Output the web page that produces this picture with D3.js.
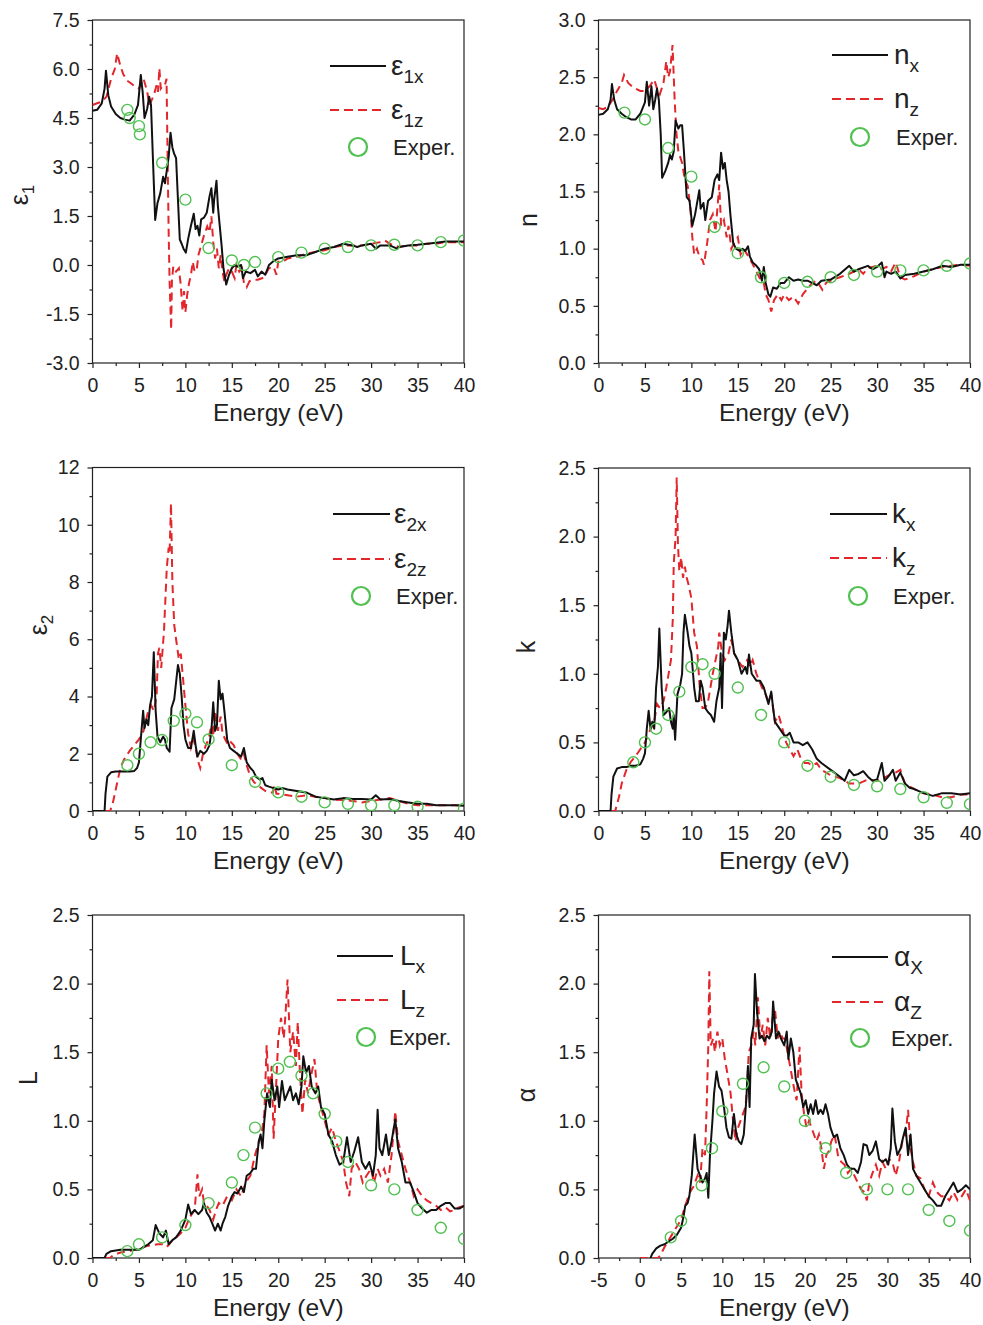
<!DOCTYPE html>
<html>
<head>
<meta charset="utf-8">
<script src="https://cdn.jsdelivr.net/npm/d3@7"></script>
<style>
  body { margin: 0; background: #fff; }
  svg { display: block; font-family: "Liberation Sans", Arial, Helvetica, sans-serif; }
  .tick text { font-size: 19.5px; fill: #222; }
</style>
</head>
<body>
<svg id="chart" width="983" height="1325"></svg>
<script>
// ---- tick labels ----
var xTicks = [0, 5, 10, 15, 20, 25, 30, 35, 40];
var xTicksAlpha = [-5, 0, 5, 10, 15, 20, 25, 30, 35, 40];
var eps1Ticks = [-3.0, -1.5, 0.0, 1.5, 3.0, 4.5, 6.0, 7.5];
var nTicks = [0.0, 0.5, 1.0, 1.5, 2.0, 2.5, 3.0];
var eps2Ticks = [0, 2, 4, 6, 8, 10, 12];
var kTicks = [0.0, 0.5, 1.0, 1.5, 2.0, 2.5];
var lossTicks = [0.0, 0.5, 1.0, 1.5, 2.0, 2.5];
var alphaTicks = [0.0, 0.5, 1.0, 1.5, 2.0, 2.5];

// ---- series: [energy (eV), value] ----
var eps1x = [[0,4.72],[0.5,4.75],[1.0,4.95],[1.3,5.4],[1.45,5.95],[1.7,5.2],[2.0,4.85],[2.5,4.62],[3.0,4.5],[3.5,4.45],[4.0,4.42],[4.5,4.6],[4.9,4.9],[5.2,5.82],[5.4,5.3],[5.6,4.5],[5.9,4.8],[6.1,5.15],[6.3,4.9],[6.5,3.3],[6.75,1.38],[7.0,1.9],[7.3,2.2],[7.6,2.7],[7.8,2.5],[8.0,2.9],[8.2,3.3],[8.4,4.05],[8.6,3.6],[8.8,3.4],[9.0,3.27],[9.2,2.0],[9.4,0.78],[9.6,0.65],[9.8,0.5],[10.05,0.38],[10.3,0.8],[10.6,1.2],[10.9,1.57],[11.1,1.1],[11.3,1.2],[11.5,0.9],[11.7,1.4],[12.0,1.45],[12.3,1.6],[12.6,2.1],[12.8,2.35],[13.0,1.6],[13.1,2.0],[13.35,2.58],[13.5,1.8],[13.7,1.2],[13.9,0.6],[14.1,-0.1],[14.4,-0.6],[14.7,-0.3],[15.0,-0.1],[15.3,0.0],[15.6,-0.05],[16.0,0.0],[16.2,-0.4],[16.5,-0.2],[17.0,-0.25],[17.5,-0.15],[17.8,-0.35],[18.2,-0.2],[18.6,-0.3],[19.0,0.0],[19.5,0.12],[20.0,0.2],[21,0.25],[22,0.3],[23,0.3],[24,0.4],[25,0.5],[26,0.55],[27,0.65],[28,0.6],[28.5,0.55],[29,0.6],[30,0.65],[30.5,0.5],[31,0.6],[32,0.6],[32.8,0.5],[33,0.55],[34,0.6],[35,0.62],[36,0.65],[37,0.68],[38,0.72],[39,0.72],[40,0.72]];
var eps1z = [[0,4.9],[0.5,4.95],[1.0,5.0],[1.5,5.15],[2.0,5.7],[2.4,6.0],[2.65,6.48],[3.0,6.1],[3.3,5.85],[3.7,5.65],[4.2,5.55],[4.6,5.45],[5.0,5.4],[5.3,5.6],[5.5,5.7],[5.9,5.3],[6.1,4.9],[6.3,5.0],[6.6,5.2],[6.9,5.5],[7.05,5.3],[7.2,6.02],[7.35,5.4],[7.6,5.5],[7.8,5.5],[7.97,5.7],[8.1,3.0],[8.2,1.0],[8.3,-0.5],[8.47,-1.98],[8.55,-0.5],[8.7,-0.04],[9.0,-0.2],[9.3,-0.1],[9.5,-0.6],[9.7,-1.42],[9.85,-0.8],[10.0,-1.45],[10.2,-0.9],[10.4,-0.55],[10.6,-0.3],[10.8,0.1],[10.95,-0.15],[11.2,-0.2],[11.4,0.3],[11.7,0.6],[12.0,0.9],[12.35,1.18],[12.6,1.0],[12.8,1.49],[13.0,0.7],[13.2,0.2],[13.4,0.5],[13.6,-0.1],[13.8,0.3],[14.0,-0.2],[14.2,-0.5],[14.4,-0.3],[14.7,-0.1],[15.0,-0.2],[15.3,-0.4],[15.5,0.0],[15.8,-0.2],[16.1,-0.1],[16.3,-0.55],[16.6,-0.68],[16.9,-0.5],[17.3,-0.45],[17.8,-0.45],[18.3,-0.4],[18.6,-0.3],[19.0,-0.1],[19.5,-0.05],[19.8,-0.3],[20.0,0.1],[20.5,0.1],[21,0.2],[22,0.25],[23,0.35],[24,0.4],[25,0.45],[26,0.55],[27,0.6],[28,0.6],[29,0.6],[30,0.65],[31,0.7],[31.5,0.75],[32,0.65],[32.5,0.6],[33,0.55],[34,0.6],[35,0.6],[36,0.65],[37,0.65],[38,0.7],[39,0.7],[40,0.7]];
var eps1Exp = [[3.75,4.75],[4.0,4.5],[5.0,4.25],[5.1,4.0],[7.5,3.13],[10,2.0],[12.5,0.52],[15,0.14],[16.3,0.0],[17.5,0.09],[20,0.24],[22.5,0.38],[25,0.5],[27.5,0.55],[30,0.6],[32.5,0.62],[35,0.6],[37.5,0.7],[40,0.75]];

var nx = [[0,2.17],[0.5,2.18],[1.0,2.22],[1.3,2.3],[1.45,2.44],[1.7,2.3],[2.0,2.22],[2.5,2.18],[3.0,2.15],[3.5,2.13],[4.0,2.13],[4.5,2.18],[5.0,2.28],[5.2,2.46],[5.45,2.25],[5.7,2.42],[5.9,2.22],[6.1,2.3],[6.3,2.4],[6.5,2.3],[6.7,2.0],[6.85,1.62],[7.2,1.68],[7.5,1.75],[7.7,1.82],[7.9,1.78],[8.1,1.85],[8.3,2.12],[8.6,2.05],[8.8,2.08],[9.0,2.08],[9.2,1.85],[9.5,1.45],[9.8,1.42],[10.1,1.2],[10.4,1.3],[10.85,1.51],[11.0,1.35],[11.3,1.4],[11.5,1.25],[11.8,1.42],[12.2,1.45],[12.5,1.6],[12.8,1.65],[13.0,1.6],[13.2,1.84],[13.4,1.7],[13.6,1.75],[13.8,1.6],[14.0,1.5],[14.2,1.3],[14.5,1.05],[14.8,1.0],[15.2,0.98],[15.5,1.0],[15.8,0.98],[16.1,1.02],[16.3,0.93],[16.6,0.88],[17.0,0.85],[17.3,0.82],[17.6,0.72],[17.8,0.84],[18.0,0.7],[18.3,0.6],[18.5,0.58],[18.8,0.66],[19.2,0.65],[19.6,0.7],[20.0,0.7],[20.5,0.75],[21,0.72],[21.5,0.73],[22,0.72],[22.5,0.72],[23,0.7],[23.5,0.68],[24,0.72],[25,0.73],[26,0.78],[27,0.85],[27.5,0.8],[28,0.82],[29,0.85],[29.5,0.82],[30,0.84],[30.5,0.88],[30.8,0.75],[31,0.8],[31.5,0.78],[32,0.8],[32.5,0.74],[33,0.77],[34,0.78],[35,0.8],[36,0.82],[37,0.85],[38,0.84],[39,0.86],[40,0.86]];
var nz = [[0,2.23],[0.5,2.22],[1.0,2.24],[1.5,2.3],[2.0,2.38],[2.5,2.45],[2.75,2.52],[3.2,2.45],[3.6,2.42],[4.0,2.4],[4.5,2.38],[5.0,2.38],[5.5,2.42],[6.0,2.48],[6.3,2.4],[6.6,2.35],[7.0,2.45],[7.3,2.64],[7.5,2.5],[7.7,2.55],[7.97,2.78],[8.2,2.3],[8.4,2.0],[8.6,1.85],[9.0,1.75],[9.3,1.6],[9.6,1.55],[9.9,1.35],[10.1,1.1],[10.3,0.95],[10.6,1.0],[10.9,0.92],[11.2,0.9],[11.35,0.86],[11.7,1.05],[12.0,1.25],[12.3,1.3],[12.6,1.15],[12.9,1.45],[13.0,1.56],[13.2,1.2],[13.5,1.25],[13.8,1.1],[14.0,1.2],[14.3,1.0],[14.6,1.05],[15.0,1.1],[15.3,0.95],[15.6,1.0],[16.0,0.95],[16.5,0.88],[17.0,0.8],[17.5,0.72],[17.8,0.7],[18.0,0.6],[18.3,0.55],[18.6,0.45],[18.9,0.55],[19.3,0.6],[19.7,0.55],[20.0,0.6],[20.5,0.55],[21,0.58],[21.5,0.52],[22,0.6],[22.5,0.65],[23,0.7],[23.5,0.72],[24.1,0.64],[24.5,0.7],[25,0.72],[26,0.75],[27,0.78],[28,0.82],[28.5,0.78],[29,0.83],[30,0.85],[30.5,0.82],[31,0.84],[31.5,0.8],[32,0.88],[32.5,0.75],[33,0.73],[34,0.76],[35,0.8],[36,0.82],[37,0.84],[38,0.85],[39,0.86],[40,0.85]];
var nExp = [[2.8,2.19],[5.0,2.13],[7.5,1.88],[10,1.63],[12.5,1.19],[15,0.96],[17.5,0.75],[20,0.7],[22.5,0.71],[25,0.75],[27.5,0.77],[30,0.8],[32.5,0.81],[35,0.81],[37.5,0.85],[40,0.87]];

var eps2x = [[0,0],[1.3,0],[1.4,0.6],[1.6,1.2],[2.0,1.35],[2.5,1.38],[3.0,1.38],[3.5,1.38],[4.0,1.38],[4.5,1.4],[4.8,1.5],[5.0,1.7],[5.2,2.5],[5.45,3.5],[5.6,2.9],[5.8,3.2],[6.0,3.0],[6.2,3.7],[6.4,4.0],[6.6,5.55],[6.8,3.5],[7.0,2.6],[7.3,2.4],[7.6,2.6],[7.8,2.5],[8.0,2.2],[8.3,2.07],[8.5,3.6],[8.8,3.9],[9.0,4.5],[9.2,5.1],[9.4,4.8],[9.6,4.0],[9.8,3.0],[10.0,2.5],[10.3,2.2],[10.6,2.2],[10.9,2.8],[11.1,2.3],[11.3,1.9],[11.6,2.1],[12.0,2.0],[12.3,2.1],[12.6,2.3],[12.8,2.8],[13.0,3.8],[13.2,2.8],[13.4,3.0],[13.6,4.55],[13.8,3.9],[14.0,4.1],[14.2,3.5],[14.5,2.5],[14.8,2.2],[15.2,2.1],[15.6,2.0],[16.0,1.9],[16.3,2.2],[16.6,1.7],[17.0,1.5],[17.3,1.4],[17.6,1.2],[18.0,1.1],[18.3,1.15],[18.6,0.9],[19.0,0.85],[19.5,0.8],[20.0,0.75],[20.5,0.8],[21,0.75],[22,0.7],[23,0.65],[24,0.5],[25,0.45],[26,0.4],[27,0.45],[28,0.42],[29,0.42],[30,0.4],[30.5,0.55],[31,0.4],[32,0.42],[33,0.35],[34,0.3],[35,0.25],[36,0.25],[37,0.2],[38,0.2],[39,0.2],[40,0.18]];
var eps2z = [[0,0],[1.9,0],[2.2,0.3],[2.6,0.9],[3.0,1.5],[3.4,1.8],[4.0,2.1],[4.5,2.3],[5.0,2.5],[5.5,2.8],[6.0,3.5],[6.3,3.7],[6.6,3.5],[6.9,4.0],[7.05,5.5],[7.2,5.7],[7.4,5.0],[7.7,6.3],[8.0,8.5],[8.2,9.2],[8.3,9.0],[8.45,10.75],[8.6,8.0],[8.8,6.5],[9.0,6.0],[9.3,5.3],[9.5,5.5],[9.7,4.8],[10.0,3.7],[10.3,2.7],[10.6,2.2],[10.9,2.5],[11.1,2.2],[11.4,1.7],[11.6,1.5],[11.9,2.0],[12.2,2.3],[12.5,2.5],[12.8,3.0],[13.0,2.6],[13.2,3.5],[13.5,2.8],[13.8,3.3],[14.0,2.7],[14.3,2.5],[14.6,2.3],[14.9,2.4],[15.2,2.3],[15.6,2.0],[16.0,1.8],[16.3,2.0],[16.6,1.6],[17.0,1.2],[17.4,1.0],[17.8,0.9],[18.2,0.8],[18.6,0.7],[19.0,0.65],[19.4,0.65],[19.6,0.9],[19.8,0.6],[20.0,0.6],[21,0.55],[22,0.5],[23,0.55],[24,0.5],[25,0.45],[26,0.4],[27,0.38],[28,0.35],[29,0.3],[30,0.35],[31,0.4],[32,0.45],[33,0.35],[34,0.25],[35,0.2],[36,0.2],[37,0.2],[38,0.2],[39,0.2],[40,0.2]];
var eps2Exp = [[3.75,1.6],[5.0,2.0],[6.25,2.4],[7.5,2.48],[8.75,3.15],[10,3.4],[11.25,3.1],[12.5,2.5],[15,1.6],[17.5,1.02],[20,0.65],[22.5,0.5],[25,0.3],[27.5,0.25],[30,0.2],[32.5,0.2],[35,0.15],[40,0.08]];

var kx = [[0,0],[1.3,0],[1.4,0.12],[1.6,0.25],[2.0,0.31],[2.5,0.32],[3.0,0.32],[3.5,0.33],[4.0,0.33],[4.5,0.34],[4.8,0.38],[5.0,0.42],[5.2,0.6],[5.4,0.73],[5.6,0.6],[5.8,0.65],[6.0,0.6],[6.2,0.9],[6.4,1.05],[6.55,1.33],[6.8,0.9],[7.0,0.7],[7.3,0.72],[7.6,0.75],[7.8,0.65],[8.0,0.6],[8.1,0.7],[8.25,0.52],[8.5,0.85],[8.8,0.92],[9.0,1.0],[9.15,1.3],[9.3,1.43],[9.6,1.3],[9.8,1.2],[10.0,1.15],[10.3,0.9],[10.5,0.8],[10.8,0.8],[11.0,0.95],[11.2,0.9],[11.5,0.75],[11.8,0.72],[12.1,0.7],[12.45,0.65],[12.7,0.8],[13.0,0.9],[13.15,1.15],[13.3,0.75],[13.5,1.3],[13.7,1.25],[13.9,1.35],[14.05,1.46],[14.3,1.3],[14.6,1.15],[15.0,1.1],[15.4,1.0],[15.8,1.05],[16.0,1.0],[16.2,1.14],[16.5,1.0],[17.0,0.95],[17.4,0.95],[17.8,0.9],[18.0,0.85],[18.3,0.78],[18.6,0.87],[18.8,0.75],[19.0,0.65],[19.5,0.6],[20.0,0.55],[20.3,0.55],[20.6,0.57],[21.0,0.5],[21.5,0.5],[22.0,0.48],[22.5,0.5],[23.0,0.45],[23.5,0.38],[24.0,0.35],[25.0,0.3],[26.0,0.25],[26.5,0.22],[27.0,0.3],[27.5,0.26],[28.0,0.27],[28.5,0.29],[29.0,0.25],[29.5,0.22],[30.0,0.23],[30.5,0.35],[30.8,0.22],[31.2,0.25],[31.7,0.3],[32.0,0.22],[32.5,0.28],[33.0,0.2],[33.5,0.17],[34.0,0.16],[35.0,0.13],[36.0,0.11],[37.0,0.13],[38.0,0.13],[39.0,0.12],[40.0,0.13]];
var kz = [[0,0],[1.8,0],[2.2,0.1],[2.5,0.2],[3.0,0.3],[3.5,0.36],[4.0,0.4],[4.5,0.45],[5.0,0.5],[5.5,0.58],[6.0,0.65],[6.3,0.78],[6.6,0.75],[7.0,0.8],[7.3,0.9],[7.5,0.98],[7.8,1.1],[8.0,1.4],[8.1,1.8],[8.3,2.0],[8.42,2.43],[8.55,1.95],[8.7,1.75],[8.9,1.85],[9.1,1.7],[9.3,1.78],[9.5,1.7],[9.7,1.65],[10.0,1.55],[10.3,1.3],[10.6,1.2],[10.9,0.9],[11.2,0.75],[11.5,0.75],[11.8,0.8],[12.0,0.88],[12.3,1.0],[12.6,1.1],[12.9,1.2],[13.0,1.3],[13.3,1.15],[13.6,1.1],[14.0,1.15],[14.3,1.25],[14.6,1.15],[15.0,1.1],[15.5,1.05],[16.0,1.1],[16.3,1.05],[16.6,1.1],[17.0,1.0],[17.3,0.95],[17.6,0.9],[18.0,0.85],[18.3,0.8],[18.6,0.85],[19.0,0.65],[19.4,0.7],[19.8,0.6],[20.2,0.5],[20.6,0.45],[21.0,0.4],[21.4,0.45],[21.8,0.38],[22.2,0.35],[22.6,0.35],[23.0,0.33],[23.5,0.35],[24.0,0.3],[25.0,0.26],[26.0,0.24],[27.0,0.2],[28.0,0.2],[29.0,0.23],[30.0,0.22],[31.0,0.25],[31.5,0.27],[32.0,0.28],[32.5,0.3],[33.0,0.2],[33.5,0.18],[34.0,0.16],[35.0,0.13],[36.0,0.12],[37.0,0.1],[38.0,0.1],[39.0,0.12],[40.0,0.12]];
var kExp = [[3.75,0.355],[5.0,0.5],[6.2,0.6],[7.5,0.7],[8.7,0.87],[10,1.05],[11.2,1.07],[12.5,1.0],[15,0.9],[17.5,0.7],[20,0.5],[22.5,0.33],[25,0.25],[27.5,0.19],[30,0.18],[32.5,0.16],[35,0.1],[37.5,0.06],[40,0.05]];

var lossx = [[0,0],[1.3,0],[1.5,0.03],[2.0,0.05],[3.0,0.06],[4.0,0.06],[5.0,0.06],[5.5,0.08],[6.0,0.1],[6.5,0.13],[6.8,0.24],[7.2,0.18],[7.6,0.15],[7.9,0.2],[8.2,0.1],[8.6,0.13],[9.0,0.15],[9.5,0.2],[10.0,0.28],[10.3,0.39],[10.6,0.32],[11.0,0.35],[11.4,0.32],[11.8,0.35],[12.0,0.4],[12.3,0.33],[12.6,0.3],[12.9,0.25],[13.2,0.2],[13.5,0.25],[13.8,0.2],[14.0,0.25],[14.3,0.3],[14.6,0.38],[15.0,0.45],[15.3,0.48],[15.6,0.47],[16.0,0.52],[16.3,0.48],[16.6,0.6],[17.0,0.62],[17.3,0.65],[17.6,0.65],[17.9,0.85],[18.1,0.9],[18.3,0.8],[18.5,1.0],[18.8,1.2],[19.1,1.1],[19.3,1.3],[19.6,1.15],[19.9,1.25],[20.1,1.1],[20.4,1.29],[20.7,1.15],[21.0,1.2],[21.3,1.25],[21.6,1.15],[21.9,1.2],[22.2,1.12],[22.5,1.25],[22.7,1.47],[23.0,1.35],[23.3,1.4],[23.6,1.25],[24.0,1.2],[24.3,1.25],[24.6,1.1],[25.0,1.05],[25.4,0.9],[25.8,0.85],[26.2,0.75],[26.6,0.68],[27.0,0.7],[27.4,0.88],[27.8,0.7],[28.2,0.78],[28.6,0.88],[29.0,0.7],[29.4,0.65],[29.8,0.7],[30.2,0.6],[30.5,0.75],[30.7,1.08],[30.9,0.8],[31.2,0.75],[31.6,0.9],[31.9,0.75],[32.2,0.85],[32.6,1.01],[32.9,0.8],[33.3,0.7],[33.7,0.55],[34.2,0.55],[34.6,0.48],[35.0,0.4],[35.5,0.36],[36.0,0.33],[36.5,0.35],[37.0,0.35],[37.5,0.38],[38.0,0.4],[38.5,0.4],[39.0,0.36],[39.5,0.36],[40.0,0.38]];
var lossz = [[0,0],[1.9,0],[2.2,0.02],[3.0,0.04],[4.0,0.05],[5.0,0.07],[6.0,0.09],[7.0,0.1],[7.5,0.1],[8.0,0.08],[8.5,0.12],[9.0,0.15],[9.5,0.18],[10.0,0.22],[10.5,0.3],[11.0,0.35],[11.3,0.61],[11.5,0.45],[11.8,0.5],[12.0,0.4],[12.3,0.38],[12.6,0.35],[13.0,0.28],[13.3,0.35],[13.6,0.4],[14.0,0.38],[14.5,0.45],[15.0,0.42],[15.5,0.5],[16.0,0.45],[16.5,0.55],[17.0,0.6],[17.5,0.75],[17.8,0.82],[18.2,0.9],[18.5,1.05],[18.75,1.55],[19.0,1.2],[19.3,1.4],[19.5,0.87],[19.8,1.3],[20.0,1.6],[20.3,1.75],[20.6,1.6],[20.8,1.8],[21.0,2.03],[21.3,1.5],[21.6,1.65],[21.9,1.4],[22.1,1.72],[22.3,1.4],[22.6,1.05],[22.9,1.3],[23.2,1.2],[23.6,1.35],[23.9,1.45],[24.2,1.2],[24.6,1.1],[25.0,1.0],[25.4,0.9],[25.8,0.95],[26.2,0.85],[26.6,0.78],[27.0,0.7],[27.3,0.55],[27.65,0.45],[27.9,0.65],[28.3,0.7],[28.7,0.65],[29.1,0.55],[29.5,0.6],[30.0,0.65],[30.3,0.55],[30.7,0.65],[31.0,0.6],[31.4,0.65],[31.8,0.55],[32.2,0.75],[32.6,1.07],[32.9,0.85],[33.3,0.75],[33.7,0.65],[34.2,0.55],[34.6,0.45],[35.0,0.5],[35.5,0.45],[36.0,0.42],[36.5,0.4],[37.0,0.38],[37.5,0.35],[38.0,0.37],[38.5,0.34],[39.0,0.35],[39.5,0.37],[40.0,0.38]];
var lossExp = [[3.75,0.05],[5,0.1],[7.5,0.15],[10,0.24],[12.5,0.4],[15,0.55],[16.25,0.75],[17.5,0.95],[18.75,1.2],[20,1.38],[21.25,1.43],[22.5,1.33],[23.75,1.2],[25,1.05],[26.25,0.85],[27.5,0.7],[30,0.53],[32.5,0.5],[35,0.35],[37.5,0.22],[40,0.14]];

var alphax = [[1.3,0],[1.5,0.03],[2.0,0.07],[2.5,0.09],[3.0,0.1],[3.5,0.12],[4.0,0.14],[4.5,0.17],[5.0,0.22],[5.3,0.3],[5.5,0.38],[5.8,0.4],[6.0,0.45],[6.3,0.6],[6.65,0.9],[7.0,0.65],[7.3,0.6],[7.6,0.55],[7.9,0.58],[8.1,0.62],[8.3,0.44],[8.5,0.75],[8.8,1.0],[9.0,1.2],[9.3,1.36],[9.6,1.25],[9.9,1.22],[10.2,1.1],[10.5,0.95],[10.8,0.88],[11.1,0.87],[11.4,1.05],[11.7,0.9],[12.0,0.85],[12.3,0.83],[12.6,0.9],[12.9,1.15],[13.1,1.4],[13.3,1.1],[13.5,1.6],[13.8,1.7],[13.95,2.07],[14.2,1.8],[14.5,1.6],[14.8,1.62],[15.1,1.58],[15.4,1.62],[15.7,1.6],[16.0,1.65],[16.15,1.87],[16.5,1.6],[16.8,1.65],[17.1,1.6],[17.5,1.55],[17.8,1.65],[18.0,1.45],[18.3,1.6],[18.6,1.5],[18.9,1.3],[19.2,1.25],[19.5,1.2],[19.8,1.1],[20.1,1.15],[20.4,1.05],[20.7,1.12],[21.0,1.05],[21.3,1.15],[21.6,1.05],[21.9,1.08],[22.2,1.05],[22.5,1.12],[22.8,1.05],[23.1,0.95],[23.5,0.88],[23.9,0.9],[24.3,0.8],[24.7,0.75],[25.1,0.68],[25.5,0.65],[26.0,0.65],[26.4,0.62],[26.8,0.7],[27.1,0.83],[27.5,0.82],[27.8,0.75],[28.2,0.78],[28.6,0.85],[29.0,0.72],[29.4,0.7],[29.8,0.72],[30.1,0.68],[30.4,0.8],[30.6,1.09],[30.9,0.85],[31.2,0.75],[31.6,0.8],[31.9,0.88],[32.2,0.95],[32.5,0.75],[32.8,0.9],[33.1,0.65],[33.5,0.6],[34.0,0.55],[34.5,0.5],[35.0,0.45],[35.5,0.42],[36.0,0.38],[36.5,0.38],[37.0,0.45],[37.5,0.5],[38.0,0.55],[38.5,0.48],[39.0,0.5],[39.5,0.53],[40.0,0.5]];
var alphaz = [[0,0],[2.2,0],[2.5,0.02],[3.0,0.08],[3.5,0.13],[4.0,0.18],[4.5,0.23],[5.0,0.28],[5.5,0.38],[6.0,0.47],[6.5,0.52],[7.0,0.6],[7.3,0.55],[7.6,0.8],[7.9,0.75],[8.1,1.1],[8.3,1.55],[8.42,2.09],[8.6,1.55],[8.9,1.6],[9.1,1.5],[9.4,1.65],[9.7,1.55],[10.0,1.6],[10.3,1.45],[10.6,1.35],[11.0,1.2],[11.3,1.0],[11.6,0.85],[11.9,0.95],[12.2,1.0],[12.5,1.05],[12.8,1.1],[13.0,1.25],[13.2,1.5],[13.5,1.55],[13.8,1.65],[14.0,1.55],[14.3,1.9],[14.6,1.6],[14.9,1.7],[15.2,1.55],[15.5,1.75],[15.8,1.6],[16.1,1.75],[16.4,1.8],[16.7,1.6],[17.0,1.65],[17.3,1.6],[17.6,1.6],[17.9,1.5],[18.2,1.4],[18.5,1.3],[18.8,1.2],[19.0,1.15],[19.35,1.54],[19.6,1.2],[19.9,1.05],[20.2,0.95],[20.5,1.0],[20.8,0.95],[21.1,0.9],[21.4,0.85],[21.7,0.9],[22.0,0.8],[22.3,0.65],[22.6,0.75],[22.9,0.78],[23.2,0.85],[23.6,0.9],[24.0,0.75],[24.4,0.7],[24.8,0.68],[25.2,0.62],[25.6,0.65],[26.0,0.6],[26.4,0.55],[26.8,0.5],[27.2,0.48],[27.5,0.42],[27.8,0.55],[28.2,0.62],[28.6,0.68],[29.0,0.6],[29.4,0.7],[29.8,0.65],[30.2,0.72],[30.6,0.7],[31.0,0.6],[31.4,0.7],[31.8,0.85],[32.2,0.9],[32.5,1.08],[32.8,0.8],[33.1,0.7],[33.5,0.6],[34.0,0.58],[34.5,0.5],[35.0,0.45],[35.5,0.55],[36.0,0.48],[36.5,0.45],[37.0,0.45],[37.5,0.42],[38.0,0.48],[38.5,0.42],[39.0,0.45],[39.5,0.5],[40.0,0.42]];
var alphaExp = [[3.75,0.15],[5,0.27],[7.5,0.53],[8.75,0.8],[10,1.07],[12.5,1.27],[15,1.39],[17.5,1.25],[20,1.0],[22.5,0.8],[25,0.62],[27.5,0.5],[30,0.5],[32.5,0.5],[35,0.35],[37.5,0.27],[40,0.2]];

// ---- colours ----
var black = "#111";
var red = "#e2262b";
var green = "#50c050";

var svg = d3.select("#chart");

// Panel layout (positions in px) built from the arrays above
var panels = [
  { left: 92.5, top: 20, w: 371.5, h: 343, xt: xTicks, yt: eps1Ticks, fmt: function (d) { return d.toFixed(1); },
    a: eps1x, b: eps1z, e: eps1Exp, sym: "\u03b5", subA: "1x", subB: "1z", ySym: "\u03b5", ySub: "1",
    ylab: [28, 195], leg: { x1: 330, x2: 386, ya: 66, yb: 110, cx: 358, cy: 147, tx: 391, ex: 393 } },
  { left: 598.5, top: 20, w: 371.5, h: 343, xt: xTicks, yt: nTicks, fmt: function (d) { return d.toFixed(1); },
    a: nx, b: nz, e: nExp, sym: "n", subA: "x", subB: "z", ySym: "n", ySub: "",
    ylab: [537, 220], leg: { x1: 832, x2: 888, ya: 55, yb: 99, cx: 860, cy: 137, tx: 894, ex: 896 } },
  { left: 92.5, top: 467.5, w: 371.5, h: 343.5, xt: xTicks, yt: eps2Ticks, fmt: function (d) { return String(d); },
    a: eps2x, b: eps2z, e: eps2Exp, sym: "\u03b5", subA: "2x", subB: "2z", ySym: "\u03b5", ySub: "2",
    ylab: [47, 625], leg: { x1: 333, x2: 390, ya: 514, yb: 559, cx: 361, cy: 596, tx: 394, ex: 396 } },
  { left: 598.5, top: 468, w: 371.5, h: 343, xt: xTicks, yt: kTicks, fmt: function (d) { return d.toFixed(1); },
    a: kx, b: kz, e: kExp, sym: "k", subA: "x", subB: "z", ySym: "k", ySub: "",
    ylab: [535, 647], leg: { x1: 830, x2: 887, ya: 514, yb: 558, cx: 858, cy: 596, tx: 892, ex: 893 } },
  { left: 92.5, top: 915, w: 371.5, h: 343, xt: xTicks, yt: lossTicks, fmt: function (d) { return d.toFixed(1); },
    a: lossx, b: lossz, e: lossExp, sym: "L", subA: "x", subB: "z", ySym: "L", ySub: "",
    ylab: [37, 1078], leg: { x1: 337, x2: 393, ya: 956, yb: 1000, cx: 366, cy: 1037, tx: 400, ex: 389 } },
  { left: 598.5, top: 915, w: 371.5, h: 343, xt: xTicksAlpha, yt: alphaTicks, fmt: function (d) { return d.toFixed(1); },
    a: alphax, b: alphaz, e: alphaExp, sym: "\u03b1", subA: "X", subB: "Z", ySym: "\u03b1", ySub: "",
    ylab: [535, 1095], leg: { x1: 832, x2: 888, ya: 957, yb: 1002, cx: 860, cy: 1038, tx: 894, ex: 891 } }
];

// midpoints between major ticks -> minor ticks
function minors(t) {
  var m = [];
  for (var i = 0; i < t.length - 1; i++) m.push((t[i] + t[i + 1]) / 2);
  return m;
}

panels.forEach(function (p, i) {
  var x = d3.scaleLinear().domain([p.xt[0], p.xt[p.xt.length - 1]]).range([0, p.w]);
  var y = d3.scaleLinear().domain([p.yt[0], p.yt[p.yt.length - 1]]).range([p.h, 0]);

  var g = svg.append("g").attr("transform", "translate(" + p.left + "," + p.top + ")");

  // clip region for the curves
  g.append("clipPath").attr("id", "clip" + i)
    .append("rect").attr("width", p.w).attr("height", p.h);

  // minor ticks
  g.append("g").attr("transform", "translate(0," + p.h + ")")
    .call(d3.axisBottom(x).tickValues(minors(p.xt)).tickSize(3).tickSizeOuter(0).tickFormat(""))
    .call(function (s) { s.select(".domain").remove(); });
  g.append("g")
    .call(d3.axisLeft(y).tickValues(minors(p.yt)).tickSize(3).tickSizeOuter(0).tickFormat(""))
    .call(function (s) { s.select(".domain").remove(); });

  // major ticks + labels
  g.append("g").attr("transform", "translate(0," + p.h + ")")
    .call(d3.axisBottom(x).tickValues(p.xt).tickSize(5).tickPadding(10).tickSizeOuter(0).tickFormat(function (d) { return String(d); }))
    .call(function (s) { s.select(".domain").remove(); });
  g.append("g")
    .call(d3.axisLeft(y).tickValues(p.yt).tickSize(5).tickPadding(8).tickSizeOuter(0).tickFormat(p.fmt))
    .call(function (s) { s.select(".domain").remove(); });
  g.selectAll(".tick line").attr("stroke", "#222").attr("stroke-width", 1.2);

  // frame
  g.append("rect").attr("width", p.w).attr("height", p.h)
    .attr("fill", "none").attr("stroke", "#222").attr("stroke-width", 1.2);

  var line = d3.line().x(function (d) { return x(d[0]); }).y(function (d) { return y(d[1]); });
  var plot = g.append("g").attr("clip-path", "url(#clip" + i + ")");

  plot.append("path").datum(p.b)
    .attr("d", line).attr("fill", "none").attr("stroke", red)
    .attr("stroke-width", 2).attr("stroke-dasharray", "8,5");
  plot.append("path").datum(p.a)
    .attr("d", line).attr("fill", "none").attr("stroke", black)
    .attr("stroke-width", 2).attr("stroke-linejoin", "round");
  plot.selectAll("circle").data(p.e).enter().append("circle")
    .attr("cx", function (d) { return x(d[0]); })
    .attr("cy", function (d) { return y(d[1]); })
    .attr("r", 5.5).attr("fill", "none").attr("stroke", green).attr("stroke-width", 1.4);

  // x axis title
  svg.append("text")
    .attr("x", p.left + p.w / 2).attr("y", p.top + p.h + 57.5)
    .attr("text-anchor", "middle").attr("font-size", 24.5).attr("fill", "#222")
    .text("Energy (eV)");

  // y axis title (rotated)
  var yl = svg.append("text")
    .attr("transform", "translate(" + p.ylab[0] + "," + p.ylab[1] + ") rotate(-90)")
    .attr("text-anchor", "middle").attr("fill", "#222");
  yl.append("tspan").attr("font-size", 25).text(p.ySym);
  if (p.ySub) yl.append("tspan").attr("font-size", 17).attr("dy", 6).text(p.ySub);

  // legend
  var L = p.leg;
  svg.append("line").attr("x1", L.x1).attr("x2", L.x2).attr("y1", L.ya).attr("y2", L.ya)
    .attr("stroke", black).attr("stroke-width", 2);
  svg.append("line").attr("x1", L.x1).attr("x2", L.x2).attr("y1", L.yb).attr("y2", L.yb)
    .attr("stroke", red).attr("stroke-width", 2).attr("stroke-dasharray", "9,5");
  [[L.ya, p.subA], [L.yb, p.subB]].forEach(function (r) {
    var t = svg.append("text").attr("x", L.tx).attr("y", r[0] + 9).attr("fill", "#222");
    t.append("tspan").attr("font-size", 28).text(p.sym);
    t.append("tspan").attr("font-size", 19).attr("dy", 8).text(r[1]);
  });
  svg.append("circle").attr("cx", L.cx).attr("cy", L.cy).attr("r", 9)
    .attr("fill", "none").attr("stroke", green).attr("stroke-width", 2.2);
  svg.append("text").attr("x", L.ex).attr("y", L.cy + 8)
    .attr("font-size", 22).attr("fill", "#222").text("Exper.");
});
</script>
</body>
</html>
